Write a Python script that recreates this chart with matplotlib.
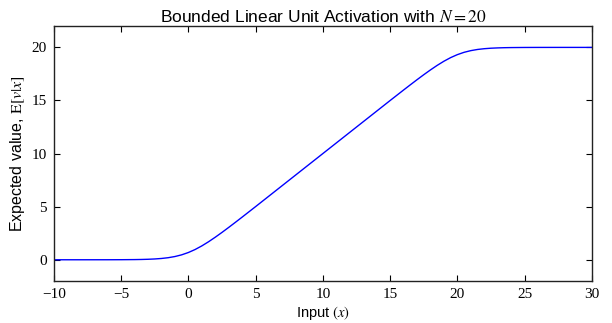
import matplotlib
matplotlib.use("Agg")
import matplotlib.pyplot as plt

# expected value of the bounded linear unit, sampled along the input axis
x_in = [-10, -8, -6, -5, -4, -3.5, -3, -2.5, -2, -1.5, -1, -0.5, 0, 0.5, 1,
        1.5, 2, 2.5, 3, 3.5, 4, 5, 10, 15, 16, 16.5, 17, 17.5, 18, 18.5, 19,
        19.5, 20, 20.5, 21, 21.5, 22, 22.5, 23, 23.5, 24, 25, 26, 28, 30]
e_val = [0.000, 0.0003, 0.0024, 0.0067, 0.0174, 0.0285, 0.0467, 0.0758,
         0.1226, 0.195, 0.305, 0.464, 0.683, 0.964, 1.305, 1.695, 2.123,
         2.576, 3.047, 3.529, 4.017, 5.006, 10.0, 14.994, 15.983, 16.471,
         16.953, 17.424, 17.877, 18.305, 18.695, 19.036, 19.317, 19.536,
         19.695, 19.805, 19.877, 19.924, 19.953, 19.972, 19.983, 19.994,
         19.998, 20.0, 20.0]
x_ticks = [-10, -5, 0, 5, 10, 15, 20, 25, 30]
y_ticks = [0, 5, 10, 15, 20]

plt.rcParams['font.family'] = 'Liberation Sans'
plt.rcParams['mathtext.fontset'] = 'stix'
plt.rcParams['axes.unicode_minus'] = True

fig = plt.figure(figsize=(6.12, 3.23), dpi=100)
ax = fig.add_axes([0.088, 0.130, 0.879, 0.789])
ax.plot(x_in, e_val, color='#0000ff', lw=1.0)

ax.set_xlim(-10, 30)
ax.set_ylim(-2, 22)
ax.set_xticks(x_ticks)
ax.set_yticks(y_ticks)
ax.set_xticklabels([('\u2212%d' % -t) if t < 0 else str(t) for t in x_ticks],
                   family='Liberation Serif', fontsize=11)
ax.set_yticklabels([str(t) for t in y_ticks], family='Liberation Serif', fontsize=11)
ax.tick_params(direction='in', length=4, width=0.8, top=True, right=True, pad=5)
for s in ax.spines.values():
    s.set_linewidth(1.0)
    s.set_color('#222222')

ax.set_title('Bounded Linear Unit Activation with $N = 20$', fontsize=12.5, pad=3)
ax.set_xlabel('Input $(x)$', fontsize=10.5, labelpad=2)
ax.set_ylabel('Expected value, $\\mathrm{E}[v|x]$', fontsize=11.5, labelpad=3)

fig.savefig('out.png', dpi=100)
